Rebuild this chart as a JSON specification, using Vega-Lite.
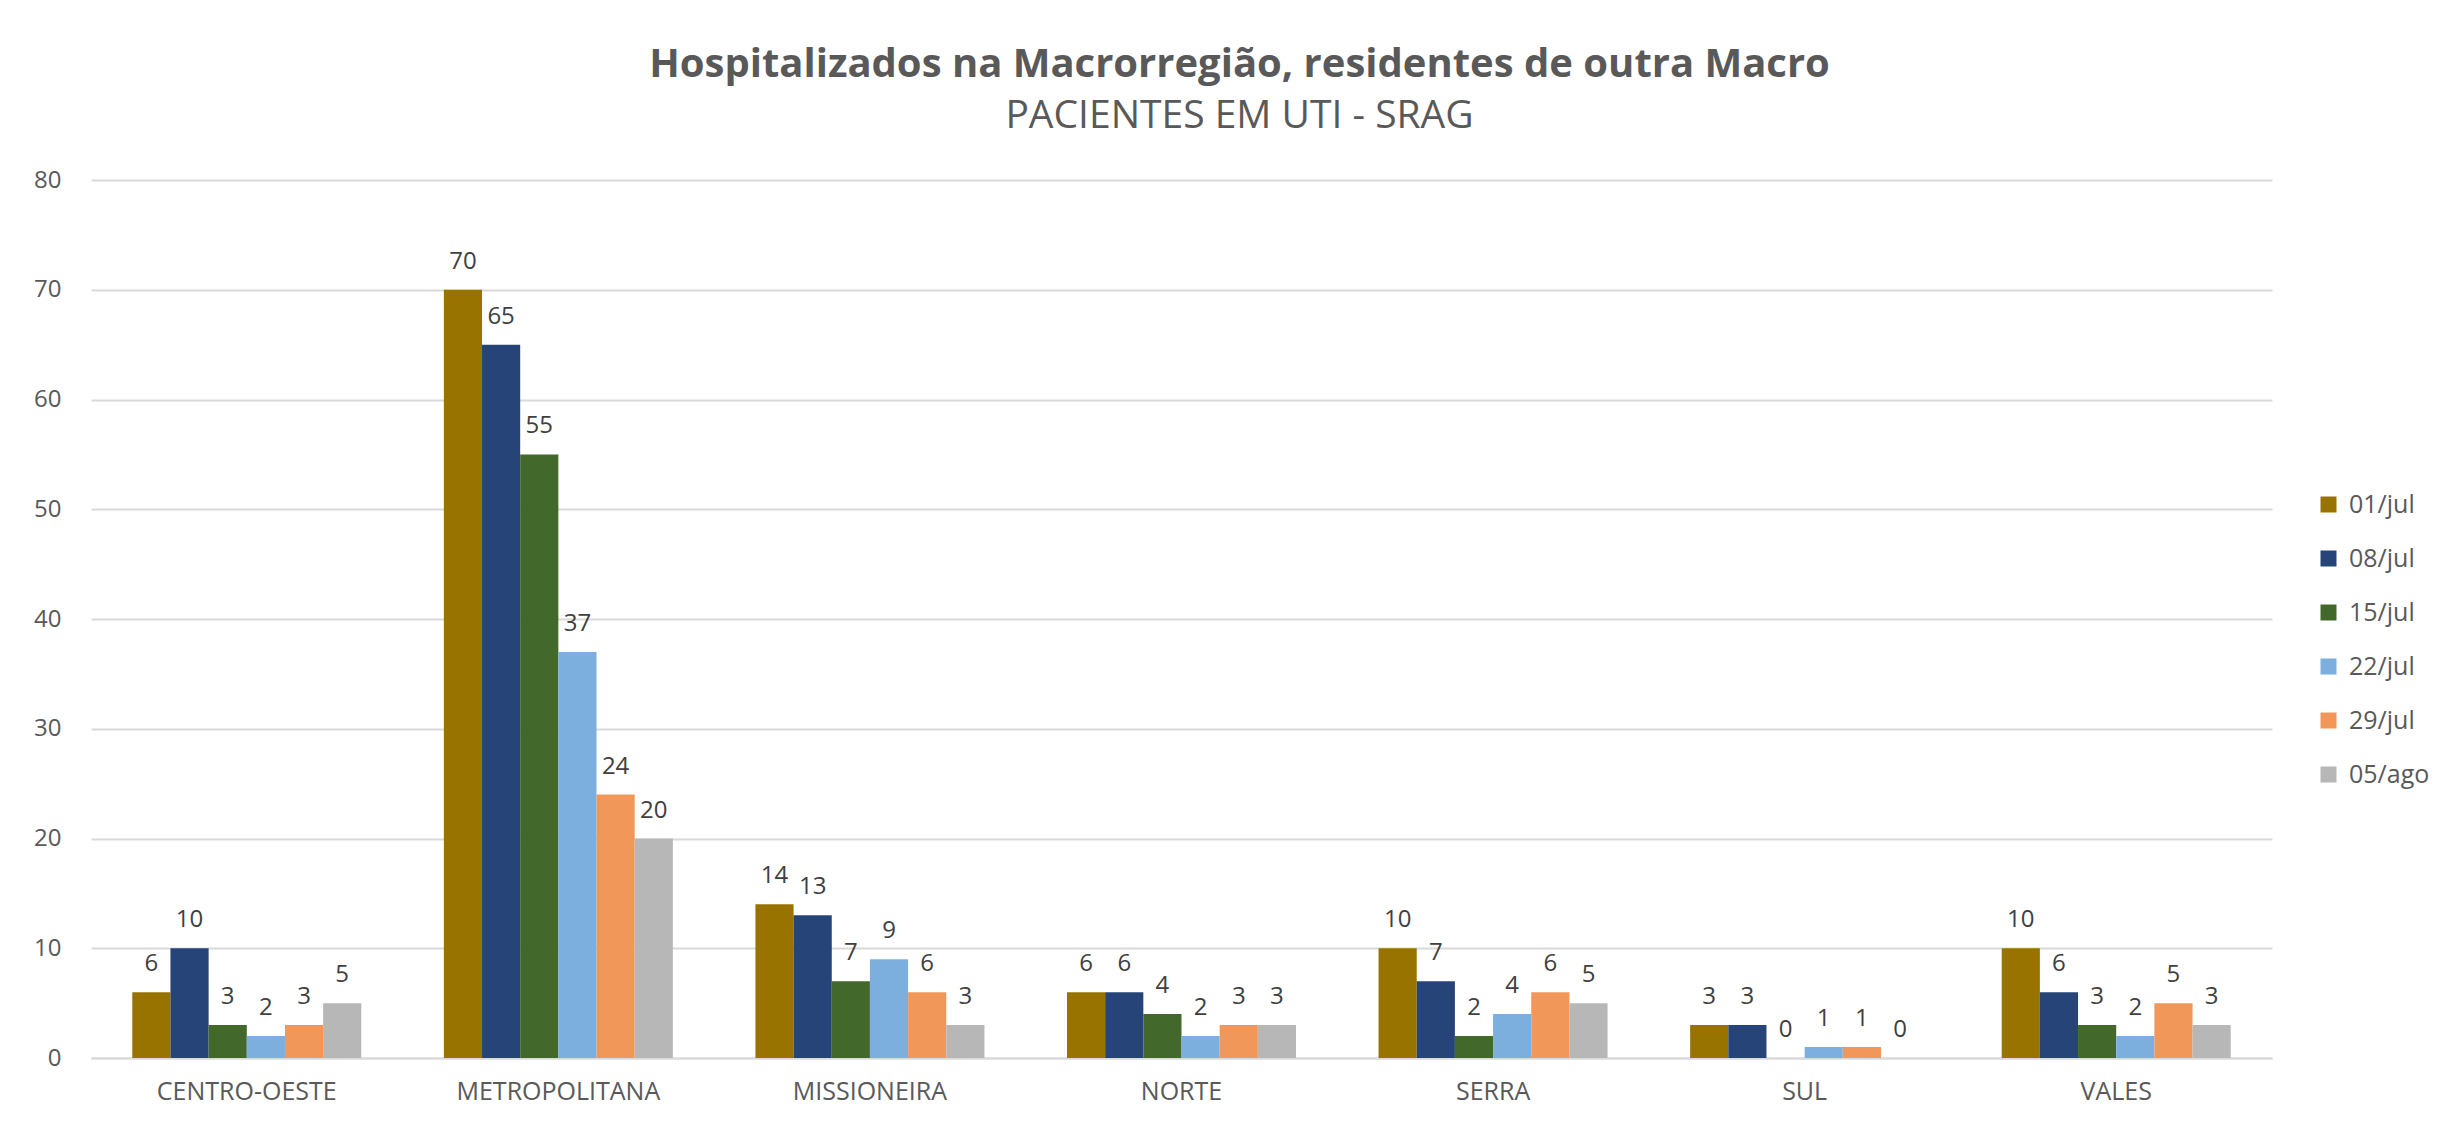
{
  "$schema": "https://vega.github.io/schema/vega-lite/v6.json",
  "autosize": {"type": "none"},
  "width": 2181,
  "height": 878,
  "padding": {"left": 91, "top": 180, "right": 188, "bottom": 67},
  "background": "white",
  "config": {"view": {"stroke": null}},
  "title": {
    "text": "Hospitalizados na Macrorregião, residentes de outra Macro",
    "subtitle": "PACIENTES EM UTI - SRAG",
    "anchor": "middle",
    "dx": 58,
    "offset": 32,
    "font": "Open Sans",
    "fontSize": 40,
    "fontWeight": "bold",
    "color": "#595959",
    "subtitleFont": "Open Sans",
    "subtitleFontSize": 39,
    "subtitleColor": "#595959",
    "subtitlePadding": 12
  },
  "data": {
    "values": [
      {"regiao": "CENTRO-OESTE", "data": "01/jul", "valor": 6},
      {"regiao": "CENTRO-OESTE", "data": "08/jul", "valor": 10},
      {"regiao": "CENTRO-OESTE", "data": "15/jul", "valor": 3},
      {"regiao": "CENTRO-OESTE", "data": "22/jul", "valor": 2},
      {"regiao": "CENTRO-OESTE", "data": "29/jul", "valor": 3},
      {"regiao": "CENTRO-OESTE", "data": "05/ago", "valor": 5},
      {"regiao": "METROPOLITANA", "data": "01/jul", "valor": 70},
      {"regiao": "METROPOLITANA", "data": "08/jul", "valor": 65},
      {"regiao": "METROPOLITANA", "data": "15/jul", "valor": 55},
      {"regiao": "METROPOLITANA", "data": "22/jul", "valor": 37},
      {"regiao": "METROPOLITANA", "data": "29/jul", "valor": 24},
      {"regiao": "METROPOLITANA", "data": "05/ago", "valor": 20},
      {"regiao": "MISSIONEIRA", "data": "01/jul", "valor": 14},
      {"regiao": "MISSIONEIRA", "data": "08/jul", "valor": 13},
      {"regiao": "MISSIONEIRA", "data": "15/jul", "valor": 7},
      {"regiao": "MISSIONEIRA", "data": "22/jul", "valor": 9},
      {"regiao": "MISSIONEIRA", "data": "29/jul", "valor": 6},
      {"regiao": "MISSIONEIRA", "data": "05/ago", "valor": 3},
      {"regiao": "NORTE", "data": "01/jul", "valor": 6},
      {"regiao": "NORTE", "data": "08/jul", "valor": 6},
      {"regiao": "NORTE", "data": "15/jul", "valor": 4},
      {"regiao": "NORTE", "data": "22/jul", "valor": 2},
      {"regiao": "NORTE", "data": "29/jul", "valor": 3},
      {"regiao": "NORTE", "data": "05/ago", "valor": 3},
      {"regiao": "SERRA", "data": "01/jul", "valor": 10},
      {"regiao": "SERRA", "data": "08/jul", "valor": 7},
      {"regiao": "SERRA", "data": "15/jul", "valor": 2},
      {"regiao": "SERRA", "data": "22/jul", "valor": 4},
      {"regiao": "SERRA", "data": "29/jul", "valor": 6},
      {"regiao": "SERRA", "data": "05/ago", "valor": 5},
      {"regiao": "SUL", "data": "01/jul", "valor": 3},
      {"regiao": "SUL", "data": "08/jul", "valor": 3},
      {"regiao": "SUL", "data": "15/jul", "valor": 0},
      {"regiao": "SUL", "data": "22/jul", "valor": 1},
      {"regiao": "SUL", "data": "29/jul", "valor": 1},
      {"regiao": "SUL", "data": "05/ago", "valor": 0},
      {"regiao": "VALES", "data": "01/jul", "valor": 10},
      {"regiao": "VALES", "data": "08/jul", "valor": 6},
      {"regiao": "VALES", "data": "15/jul", "valor": 3},
      {"regiao": "VALES", "data": "22/jul", "valor": 2},
      {"regiao": "VALES", "data": "29/jul", "valor": 5},
      {"regiao": "VALES", "data": "05/ago", "valor": 3}
    ]
  },
  "encoding": {
    "x": {
      "field": "regiao",
      "type": "nominal",
      "sort": null,
      "scale": {"paddingInner": 0.265, "paddingOuter": 0.1325},
      "axis": {
        "title": null,
        "labelAngle": 0,
        "labelLimit": 0,
        "labelFont": "Open Sans",
        "labelFontSize": 25,
        "labelColor": "#595959",
        "labelPadding": 21,
        "ticks": false,
        "domainColor": "#D9D9D9",
        "domainWidth": 2,
        "grid": false
      }
    },
    "xOffset": {
      "field": "data",
      "type": "nominal",
      "sort": ["01/jul", "08/jul", "15/jul", "22/jul", "29/jul", "05/ago"],
      "scale": {"paddingInner": 0, "paddingOuter": 0}
    },
    "y": {
      "field": "valor",
      "type": "quantitative",
      "scale": {"domain": [0, 80], "nice": false},
      "axis": {
        "title": null,
        "values": [0, 10, 20, 30, 40, 50, 60, 70, 80],
        "labelFont": "Open Sans",
        "labelFontSize": 24,
        "labelColor": "#595959",
        "labelPadding": 30,
        "ticks": false,
        "domain": false,
        "gridColor": "#D9D9D9",
        "gridWidth": 2
      }
    }
  },
  "layer": [
    {
      "mark": {"type": "bar"},
      "encoding": {
        "color": {
          "field": "data",
          "type": "nominal",
          "sort": ["01/jul", "08/jul", "15/jul", "22/jul", "29/jul", "05/ago"],
          "scale": {
            "domain": ["01/jul", "08/jul", "15/jul", "22/jul", "29/jul", "05/ago"],
            "range": ["#997300", "#264478", "#43682B", "#7CAFDD", "#F1975A", "#B7B7B7"]
          },
          "legend": {
            "title": null,
            "orient": "none",
            "legendX": 2225,
            "legendY": 312,
            "symbolType": "square",
            "symbolSize": 256,
            "symbolStrokeWidth": 0,
            "labelFont": "Open Sans",
            "labelFontSize": 25,
            "labelColor": "#595959",
            "labelOffset": 8,
            "rowPadding": 28
          }
        }
      }
    },
    {
      "mark": {
        "type": "text",
        "baseline": "alphabetic",
        "dy": -21,
        "font": "Open Sans",
        "fontSize": 24,
        "color": "#404040"
      },
      "encoding": {
        "text": {"field": "valor", "type": "quantitative"}
      }
    }
  ]
}
